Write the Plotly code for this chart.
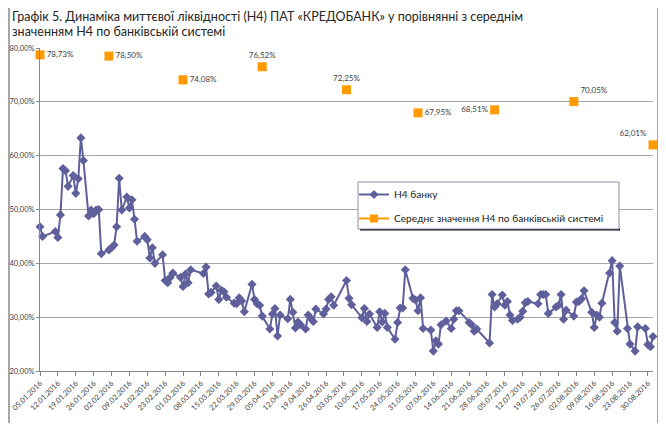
import plotly.graph_objects as go

bank_dates = [
    "2016-01-05","2016-01-06","2016-01-11","2016-01-12","2016-01-13","2016-01-14","2016-01-15","2016-01-16",
    "2016-01-18","2016-01-19","2016-01-20","2016-01-21","2016-01-22","2016-01-24","2016-01-25","2016-01-26",
    "2016-01-27","2016-01-28","2016-01-29","2016-02-01","2016-02-02","2016-02-03","2016-02-04","2016-02-05",
    "2016-02-06","2016-02-08","2016-02-09","2016-02-10","2016-02-11","2016-02-12","2016-02-15","2016-02-16",
    "2016-02-17","2016-02-18","2016-02-19","2016-02-22","2016-02-23","2016-02-24","2016-02-25","2016-02-26",
    "2016-02-29","2016-03-01","2016-03-02","2016-03-03","2016-03-04","2016-03-09","2016-03-10","2016-03-11",
    "2016-03-12","2016-03-14","2016-03-15","2016-03-16","2016-03-17","2016-03-18","2016-03-21","2016-03-22",
    "2016-03-23","2016-03-24","2016-03-25","2016-03-28","2016-03-29","2016-03-30","2016-03-31","2016-04-01",
    "2016-04-04","2016-04-05","2016-04-06","2016-04-07","2016-04-08","2016-04-11","2016-04-12","2016-04-13",
    "2016-04-14","2016-04-15","2016-04-16","2016-04-18","2016-04-19","2016-04-20","2016-04-21","2016-04-22",
    "2016-04-25","2016-04-26","2016-04-27","2016-04-28","2016-04-29","2016-05-04","2016-05-05","2016-05-06",
    "2016-05-10","2016-05-11","2016-05-12","2016-05-13","2016-05-16","2016-05-17","2016-05-18","2016-05-19",
    "2016-05-20","2016-05-23","2016-05-24","2016-05-25","2016-05-26","2016-05-27","2016-05-30","2016-05-31",
    "2016-06-01","2016-06-02","2016-06-03","2016-06-06","2016-06-07","2016-06-08","2016-06-09","2016-06-10",
    "2016-06-12","2016-06-14","2016-06-15","2016-06-16","2016-06-17","2016-06-21","2016-06-22","2016-06-23",
    "2016-06-24","2016-06-29","2016-06-30","2016-07-01","2016-07-02","2016-07-04","2016-07-05","2016-07-06",
    "2016-07-07","2016-07-08","2016-07-10","2016-07-11","2016-07-12","2016-07-13","2016-07-14","2016-07-18",
    "2016-07-19","2016-07-20","2016-07-21","2016-07-22","2016-07-25","2016-07-26","2016-07-27","2016-07-28",
    "2016-07-29","2016-08-01","2016-08-02","2016-08-03","2016-08-04","2016-08-05","2016-08-08","2016-08-09",
    "2016-08-10","2016-08-11","2016-08-12","2016-08-15","2016-08-16","2016-08-17","2016-08-18","2016-08-19",
    "2016-08-22","2016-08-23","2016-08-25","2016-08-26","2016-08-29","2016-08-30","2016-08-31","2016-09-01",
]
bank_h4 = [
    46.8, 45.0, 45.9, 44.8, 49.0, 57.6, 57.2, 54.3,
    56.3, 53.0, 55.7, 63.3, 59.1, 48.8, 49.9, 49.2,
    49.9, 50.0, 41.8, 42.5, 42.9, 43.4, 46.8, 55.8,
    49.9, 52.3, 50.3, 51.8, 48.2, 44.1, 45.0, 44.4,
    41.0, 42.9, 40.0, 41.6, 36.8, 36.4, 37.4, 38.2,
    37.4, 35.7, 38.0, 36.4, 38.8, 38.1, 39.3, 34.3,
    34.6, 35.8, 33.3, 35.0, 34.7, 33.7, 32.6, 32.5,
    33.6, 33.0, 31.0, 36.1, 33.3, 32.5, 32.2, 30.2,
    27.8, 30.6, 31.6, 26.5, 30.4, 29.7, 33.3, 30.9,
    28.0, 29.1, 28.6, 27.8, 30.4, 29.8, 29.2, 31.5,
    30.6, 31.5, 33.3, 33.8, 32.2, 36.8, 33.5, 32.3,
    29.9, 31.6, 29.2, 30.6, 28.1, 31.0, 29.1, 30.7,
    28.1, 25.9, 29.0, 31.7, 31.7, 38.8, 33.5, 33.2,
    31.2, 33.6, 27.9, 27.6, 23.7, 25.6, 25.0, 28.6,
    29.3, 27.9, 29.6, 31.2, 31.2, 29.0, 28.6, 27.4,
    27.8, 25.2, 34.2, 31.9, 32.5, 34.1, 32.2, 32.9,
    30.4, 29.4, 29.6, 30.0, 31.1, 32.7, 32.9, 32.5,
    34.2, 34.2, 34.2, 30.7, 31.9, 32.2, 34.2, 29.6,
    31.3, 30.2, 32.8, 32.9, 33.4, 34.9, 30.9, 28.1,
    30.4, 30.0, 32.6, 38.2, 40.5, 29.0, 27.4, 39.5,
    27.9, 25.0, 23.7, 28.2, 27.9, 24.9, 24.5, 26.4,
]

sys_dates = ["2016-01-05", "2016-02-01", "2016-03-01", "2016-04-01", "2016-05-04",
             "2016-06-01", "2016-07-01", "2016-08-01", "2016-09-01"]
sys_h4 = [78.73, 78.50, 74.08, 76.52, 72.25, 67.95, 68.51, 70.05, 62.01]
sys_label_pos = ["middle right", "middle right", "middle right", "top center", "top center",
                 "middle right", "middle left", "top right", "top left"]

title_line1 = "Графік 5. Динаміка миттєвої ліквідності (Н4) ПАТ «КРЕДОБАНК» у порівнянні з середнім"
title_line2 = "значенням Н4 по банківській системі"
name_bank = "Н4 банку"
name_sys = "Середнє значення Н4 по банківській системі"

# page offset of the figure inside the browser window (body margin)
OFF = 8
W, H = 666, 425
# desired plot area in page pixels: x 40..653, y 48..371
ML, MT = 40 - OFF, 48 - OFF
MR, MB = W - (653 - OFF), H - (371 - OFF)
PW, PH = W - ML - MR, H - MT - MB


def px(x):
    return (x - OFF - ML) / PW


def py(y):
    return (H - MB - (y - OFF)) / PH


FONT = "Lato"
TXT = "#404040"
BLUE = "#5f5f9c"
ORANGE = "#ff9a00"

fig = go.Figure()
fig.add_trace(go.Scatter(
    x=bank_dates, y=bank_h4, name=name_bank, mode="lines+markers",
    line=dict(color=BLUE, width=2),
    marker=dict(symbol="diamond", size=7, color=BLUE),
    legendgroup="a", cliponaxis=False,
))
fig.add_trace(go.Scatter(
    x=sys_dates, y=sys_h4, name=name_sys, mode="markers+text",
    marker=dict(symbol="square", size=9, color=ORANGE),
    text=[f"{v:.2f}%".replace(".", ",") for v in sys_h4],
    textposition=sys_label_pos,
    textfont=dict(family=FONT, size=8, color=TXT),
    legendgroup="b", showlegend=False, cliponaxis=False,
))
fig.add_trace(go.Scatter(
    x=[None], y=[None], name=name_sys, mode="lines+markers",
    line=dict(color=ORANGE, width=2),
    marker=dict(symbol="square", size=8, color=ORANGE),
    legendgroup="b", showlegend=True,
))

shapes = [
    dict(type="line", xref="paper", yref="paper", x0=px(9), x1=px(9), y0=py(8), y1=py(423),
         line=dict(color="#a6a6a6", width=2), layer="below"),
    dict(type="line", xref="paper", yref="paper", x0=px(658), x1=px(658), y0=py(8), y1=py(423),
         line=dict(color="#a6a6a6", width=2), layer="below"),
    dict(type="line", xref="paper", yref="paper", x0=px(360), x1=px(620), y0=py(229.5), y1=py(229.5),
         line=dict(color="#000000", width=2), layer="above"),
    dict(type="rect", xref="paper", yref="paper", x0=px(358), x1=px(619), y0=py(182), y1=py(229),
         line=dict(color="#8c8cae", width=1), fillcolor="white", layer="above"),
]

annotations = [
    dict(text=title_line1, xref="paper", yref="paper", x=px(11), y=py(8), xanchor="left", yanchor="top",
         showarrow=False, borderpad=0, font=dict(family=FONT, size=12.5, color="#262626")),
    dict(text=title_line2, xref="paper", yref="paper", x=px(11), y=py(23), xanchor="left", yanchor="top",
         showarrow=False, borderpad=0, font=dict(family=FONT, size=12.5, color="#262626")),
]

fig.update_layout(
    width=W, height=H,
    margin=dict(l=ML, r=MR, t=MT, b=MB, autoexpand=False),
    paper_bgcolor="white", plot_bgcolor="white",
    separators=", ",
    showlegend=True,
    legend=dict(x=px(354), y=py(180), xanchor="left", yanchor="top",
                bgcolor="rgba(0,0,0,0)", borderwidth=0, traceorder="grouped", tracegroupgap=5,
                font=dict(family=FONT, size=10.2, color="#1a1a1a")),
    shapes=shapes,
    annotations=annotations,
    font=dict(family=FONT, color=TXT),
)
fig.update_xaxes(
    type="date", range=["2016-01-05", "2016-09-01"], automargin=False,
    tick0="2016-01-05", dtick=7 * 86400000, tickformat="%d.%m.%Y", tickangle=-45,
    ticks="outside", ticklen=4, tickcolor="#868686",
    showline=True, linecolor="#868686", linewidth=1, showgrid=False, zeroline=False,
    tickfont=dict(family=FONT, size=7.5, color=TXT),
)
fig.update_yaxes(
    range=[20, 80], dtick=10, tickformat=".2f", ticksuffix="%", automargin=False,
    ticks="outside", ticklen=3, tickcolor="#868686",
    showline=True, linecolor="#868686", linewidth=1,
    showgrid=True, gridcolor="#a6a6a6", gridwidth=1, zeroline=False,
    tickfont=dict(family=FONT, size=7.5, color=TXT),
)

fig.write_html("out.html")
